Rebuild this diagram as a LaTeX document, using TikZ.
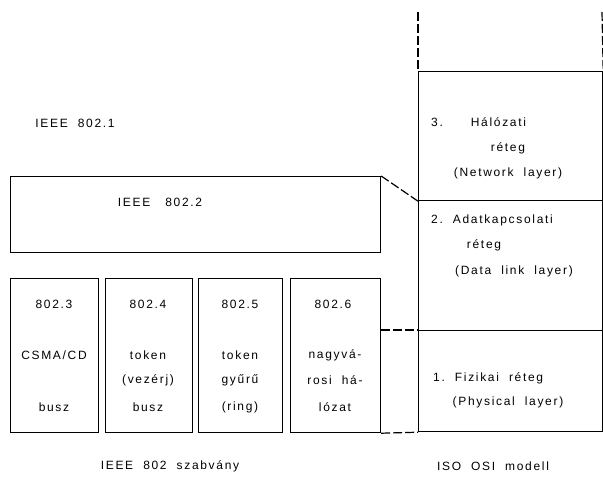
\documentclass[tikz,border=0pt]{standalone}
\usepackage{fontspec}
\newfontfamily\lblfamily[LetterSpace=14]{Liberation Sans}
\begin{document}
\begin{tikzpicture}[x=1pt,y=-1pt,
  box/.style={draw, line width=1.2pt, inner sep=0pt, anchor=north west},
  lbl/.style={font=\lblfamily\fontsize{12}{14}\selectfont, inner sep=0pt},
  conn/.style={line width=1.2pt, dash pattern=on 9pt off 3pt}]
\useasboundingbox (0,0) rectangle (603,477);

% IEEE side
\node[lbl] (t8021) at (75,123) {IEEE\ \ 802.1};
\node[box, minimum width=370, minimum height=76] (b8022) at (10,176) {};
\node[lbl] (t8022) at (160,202) {IEEE\ \ \ 802.2};

\node[box, minimum width=88, minimum height=154] (b3) at (10,278) {};
\node[box, minimum width=87, minimum height=154] (b4) at (105,278) {};
\node[box, minimum width=84, minimum height=154] (b5) at (198,278) {};
\node[box, minimum width=90, minimum height=154] (b6) at (290,278) {};

\node[lbl] (b3a) at (54,304) {802.3};
\node[lbl] (b3b) at (54,355) {CSMA/CD};
\node[lbl] (b3c) at (54,407) {busz};

\node[lbl] (b4a) at (148,304) {802.4};
\node[lbl] (b4b) at (148,355) {token};
\node[lbl] (b4c) at (148,380) {(vezérj)};
\node[lbl] (b4d) at (148,407) {busz};

\node[lbl] (b5a) at (240,304) {802.5};
\node[lbl] (b5b) at (240,355) {token};
\node[lbl] (b5c) at (240,380) {gyűrű};
\node[lbl] (b5d) at (240,407) {(ring)};

\node[lbl] (b6a) at (333,304) {802.6};
\node[lbl] (b6b) at (335,355) {nagyvá-};
\node[lbl] (b6c) at (335,380) {rosi\ \ há-};
\node[lbl] (b6d) at (335,407) {lózat};

\node[lbl] (tieee) at (170,466) {IEEE\ \ 802\ \ szabvány};

% OSI side
\node[box, minimum width=184, minimum height=129] (l3) at (418,71) {};
\node[box, minimum width=184, minimum height=130] (l2) at (418,200) {};
\node[box, minimum width=184, minimum height=101] (l1) at (418,330) {};

\coordinate (topl) at (418,12);
\coordinate (topr) at (602,12);
\draw[conn] (topl) -- (l3.north west);
\draw[conn] (topr) -- (l3.north east);

\node[lbl, anchor=west] (l3a) at (431,122) {3.\hspace{28pt}Hálózati};
\node[lbl] (l3b) at (508,148) {réteg};
\node[lbl] (l3c) at (508,173) {(Network\ \ layer)};

\node[lbl, anchor=west] (l2a) at (431,220) {2.\ \ Adatkapcsolati};
\node[lbl] (l2b) at (484,245) {réteg};
\node[lbl] (l2c) at (514,271) {(Data\ \ link\ \ layer)};

\node[lbl, anchor=west] (l1a) at (433,378) {1.\ \ Fizikai\ \ réteg};
\node[lbl] (l1b) at (508,402) {(Physical\ \ layer)};

\node[lbl] (tosi) at (493,466) {ISO\ \ OSI\ \ modell};

% connectors
\draw[conn] (b8022.north east) -- (l3.south west);
\draw[conn] (b6.east |- l1.north west) -- (l1.north west);
\draw[conn] (b6.south east) -- (l1.south west);
\end{tikzpicture}
\end{document}
